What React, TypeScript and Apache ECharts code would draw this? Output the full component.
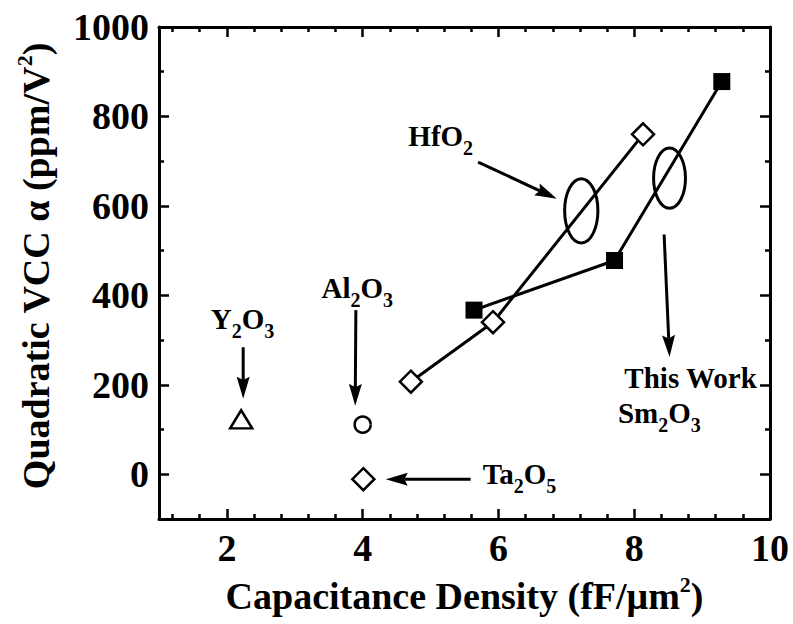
import React, { useEffect, useRef } from 'react';
import * as echarts from 'echarts';

const FONT = 'Liberation Serif';

// Axis ticks / labels
const xMajorTicks = [2, 4, 6, 8, 10];
const xMinorTicks = [1.2, 1.6, 2.4, 2.8, 3.2, 3.6, 4.4, 4.8, 5.2, 5.6, 6.4, 6.8, 7.2, 7.6, 8.4, 8.8, 9.2, 9.6];
const yMajorTicks = [0, 200, 400, 600, 800, 1000];
const yMinorTicks = [100, 300, 500, 700, 900];

// Series values (capacitance density fF/um^2, quadratic VCC ppm/V^2)
const hfo2Density = [4.71, 5.92, 8.13];
const hfo2Vcc = [207, 340, 760];
const sm2o3Density = [5.64, 7.71, 9.29];
const sm2o3Vcc = [367, 478, 878];
const y2o3Point = [2.21, 123];
const al2o3Point = [4.0, 111];
const ta2o5Point = [4.01, -11];

// Annotations (in data coordinates)
const labelTexts = ['HfO{s|2}', 'Y{s|2}O{s|3}', 'Al{s|2}O{s|3}', 'Ta{s|2}O{s|5}', 'This Work', 'Sm{s|2}O{s|3}'];
const labelAt = [[5.15, 756], [2.23, 347], [3.92, 417], [6.31, 0], [8.83, 216], [8.37, 138]];
const arrows = [
  [5.70, 698, 6.86, 616],
  [8.44, 536, 8.52, 262],
  [2.24, 284, 2.24, 169],
  [3.90, 367, 3.89, 153],
  [5.59, -11, 4.34, -11],
];
const ellipses = [[7.22, 589, 0.49, 144], [8.52, 662, 0.47, 135]];

const black = '#000';

function makeXAxis(position: 'top' | 'bottom', major: boolean, extra: any = {}) {
  return {
    type: 'value',
    min: 1,
    max: 10,
    position,
    axisLine: { show: major, onZero: false, lineStyle: { color: black, width: 3 } },
    axisTick: {
      show: true,
      inside: true,
      length: major ? 10 : 5,
      customValues: major ? xMajorTicks : xMinorTicks,
      lineStyle: { color: black, width: 2.5 },
    },
    axisLabel: { show: false },
    splitLine: { show: false },
    ...extra,
  };
}

function makeYAxis(position: 'left' | 'right', major: boolean, extra: any = {}) {
  return {
    type: 'value',
    min: -100,
    max: 1000,
    position,
    axisLine: { show: major, onZero: false, lineStyle: { color: black, width: 3 } },
    axisTick: {
      show: true,
      inside: true,
      length: major ? 10 : 5,
      customValues: major ? yMajorTicks : yMinorTicks,
      lineStyle: { color: black, width: 2.5 },
    },
    axisLabel: { show: false },
    splitLine: { show: false },
    ...extra,
  };
}

const tickLabelStyle = {
  show: true,
  color: black,
  fontFamily: FONT,
  fontWeight: 'bold',
  fontSize: 38,
  margin: 10,
  formatter: (v: number) => String(v),
};

const markerStyle = { color: '#fff', borderColor: black, borderWidth: 2.5, opacity: 1 };

export default function App() {
  const ref = useRef<HTMLDivElement>(null);

  useEffect(() => {
    if (!ref.current) return;
    const chart = echarts.init(ref.current, null, { renderer: 'svg' });

    const option: any = {
      animation: false,
      backgroundColor: '#fff',
      textStyle: { fontFamily: FONT },
      grid: { left: 159, right: 23, top: 27, bottom: 101, containLabel: false },
      xAxis: [
        makeXAxis('bottom', true, {
          axisLabel: { ...tickLabelStyle, customValues: xMajorTicks },
          name: 'Capacitance Density (fF/μm{sup|2})',
          nameLocation: 'middle',
          nameGap: 54,
          nameTextStyle: {
            color: black,
            fontFamily: FONT,
            fontWeight: 'bold',
            fontSize: 38,
            lineHeight: 46,
            rich: {
              sup: { fontFamily: FONT, fontWeight: 'bold', fontSize: 22, lineHeight: 18, verticalAlign: 'top', color: black },
            },
          },
        }),
        makeXAxis('bottom', false),
        makeXAxis('top', true),
        makeXAxis('top', false),
      ],
      yAxis: [
        makeYAxis('left', true, {
          axisLabel: { ...tickLabelStyle, customValues: yMajorTicks },
          name: 'Quadratic VCC α (ppm/V{sup|2})',
          nameLocation: 'middle',
          nameGap: 100,
          nameTextStyle: {
            color: black,
            fontFamily: FONT,
            fontWeight: 'bold',
            fontSize: 38,
            lineHeight: 46,
            padding: [0, 0, 0, 14],
            rich: {
              sup: { fontFamily: FONT, fontWeight: 'bold', fontSize: 22, lineHeight: 23, verticalAlign: 'top', color: black },
            },
          },
        }),
        makeYAxis('left', false),
        makeYAxis('right', true),
        makeYAxis('right', false),
      ],
      series: [
        {
          name: 'HfO2',
          type: 'line',
          xAxisIndex: 0,
          yAxisIndex: 0,
          data: hfo2Density.map((x, i) => [x, hfo2Vcc[i]]),
          symbol: 'diamond',
          symbolSize: 22,
          lineStyle: { color: black, width: 3 },
          itemStyle: markerStyle,
          z: 3,
        },
        {
          name: 'Sm2O3',
          type: 'line',
          xAxisIndex: 0,
          yAxisIndex: 0,
          data: sm2o3Density.map((x, i) => [x, sm2o3Vcc[i]]),
          symbol: 'rect',
          symbolSize: 17,
          lineStyle: { color: black, width: 3 },
          itemStyle: { color: black, opacity: 1 },
          z: 4,
        },
        {
          name: 'Y2O3',
          type: 'scatter',
          data: [y2o3Point],
          symbol: 'triangle',
          symbolSize: [22, 18],
          itemStyle: markerStyle,
          z: 3,
        },
        {
          name: 'Al2O3',
          type: 'scatter',
          data: [al2o3Point],
          symbol: 'circle',
          symbolSize: 16,
          itemStyle: markerStyle,
          z: 3,
        },
        {
          name: 'Ta2O5',
          type: 'scatter',
          data: [ta2o5Point],
          symbol: 'diamond',
          symbolSize: 22,
          itemStyle: markerStyle,
          z: 3,
        },
        {
          name: 'ellipses',
          type: 'custom',
          data: ellipses,
          silent: true,
          clip: false,
          z: 5,
          renderItem: (params: any, api: any) => {
            const c = api.coord([api.value(0), api.value(1)]);
            const s = api.size([api.value(2), api.value(3)]);
            return {
              type: 'ellipse',
              shape: { cx: c[0], cy: c[1], rx: s[0] / 2, ry: s[1] / 2 },
              style: { fill: 'none', stroke: black, lineWidth: 3 },
            };
          },
        },
        {
          name: 'arrows',
          type: 'custom',
          data: arrows,
          silent: true,
          clip: false,
          z: 5,
          renderItem: (params: any, api: any) => {
            const p1 = api.coord([api.value(0), api.value(1)]);
            const p2 = api.coord([api.value(2), api.value(3)]);
            const dx = p2[0] - p1[0];
            const dy = p2[1] - p1[1];
            const len = Math.hypot(dx, dy) || 1;
            const ux = dx / len;
            const uy = dy / len;
            const nx = -uy;
            const ny = ux;
            const hl = 22;
            const hw = 13;
            const bx = p2[0] - ux * hl;
            const by = p2[1] - uy * hl;
            const mx = p2[0] - ux * hl * 0.85;
            const my = p2[1] - uy * hl * 0.85;
            return {
              type: 'group',
              children: [
                {
                  type: 'line',
                  shape: { x1: p1[0], y1: p1[1], x2: mx, y2: my },
                  style: { stroke: black, lineWidth: 3 },
                },
                {
                  type: 'polygon',
                  shape: {
                    points: [
                      [p2[0], p2[1]],
                      [bx + (nx * hw) / 2, by + (ny * hw) / 2],
                      [mx, my],
                      [bx - (nx * hw) / 2, by - (ny * hw) / 2],
                    ],
                  },
                  style: { fill: black },
                },
              ],
            };
          },
        },
        {
          name: 'labels',
          type: 'scatter',
          data: labelAt.map((p, i) => ({ value: p, name: labelTexts[i] })),
          symbolSize: 1,
          silent: true,
          z: 10,
          itemStyle: { color: 'rgba(0,0,0,0)', opacity: 1 },
          label: {
            show: true,
            position: 'inside',
            formatter: (p: any) => p.name,
            color: black,
            opacity: 1,
            textBorderWidth: 0,
            fontFamily: FONT,
            fontWeight: 'bold',
            fontSize: 29,
            lineHeight: 44,
            rich: {
              s: { fontFamily: FONT, fontWeight: 'bold', fontSize: 20, lineHeight: 21, verticalAlign: 'bottom', color: black },
            },
          },
        },
      ],
    };

    chart.setOption(option);
    return () => chart.dispose();
  }, []);

  return (
    <div
      ref={ref}
      style={{ position: 'fixed', left: 0, top: 0, width: 793, height: 624, background: '#fff' }}
    />
  );
}
